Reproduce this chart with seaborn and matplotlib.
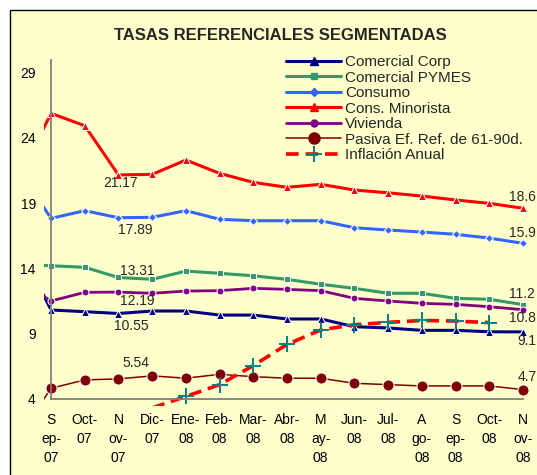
import numpy as np
import pandas as pd
import matplotlib
matplotlib.use("Agg")
import matplotlib.pyplot as plt
from matplotlib.patches import Rectangle
from matplotlib.lines import Line2D
import seaborn as sns

# ---------------- data ----------------
months = ["Ago-07", "Sep-07", "Oct-07", "Nov-07", "Dic-07", "Ene-08", "Feb-08", "Mar-08",
          "Abr-08", "May-08", "Jun-08", "Jul-08", "Ago-08", "Sep-08", "Oct-08", "Nov-08"]
tick_labels = ["S\nep-\n07", "Oct-\n07", "N\nov-\n07", "Dic-\n07", "Ene-\n08", "Feb-\n08",
               "Mar-\n08", "Abr-\n08", "M\nay-\n08", "Jun-\n08", "Jul-\n08", "A\ngo-\n08",
               "S\nep-\n08", "Oct-\n08", "N\nov-\n08"]

comercial_corp = [15.9, 10.82, 10.69, 10.55, 10.74, 10.74, 10.43, 10.43, 10.13, 10.13,
                  9.54, 9.44, 9.26, 9.26, 9.15, 9.14]
comercial_pymes = [14.3, 14.21, 14.09, 13.31, 13.17, 13.80, 13.63, 13.44, 13.17, 12.79,
                   12.48, 12.10, 12.10, 11.71, 11.64, 11.23]
consumo = [21.7, 17.84, 18.43, 17.89, 17.92, 18.43, 17.77, 17.66, 17.66, 17.66,
           17.12, 16.95, 16.79, 16.62, 16.33, 15.93]
cons_minorista = [20.7, 25.89, 24.94, 21.17, 21.21, 22.31, 21.29, 20.60, 20.22, 20.45,
                  20.01, 19.80, 19.55, 19.25, 18.99, 18.62]
vivienda = [13.1, 11.51, 12.17, 12.19, 12.10, 12.27, 12.30, 12.48, 12.40, 12.30,
            11.71, 11.51, 11.33, 11.25, 11.07, 10.84]
pasiva = [1.0, 4.82, 5.46, 5.54, 5.77, 5.59, 5.89, 5.71, 5.59, 5.59,
          5.20, 5.10, 5.00, 5.00, 5.00, 4.72]
inflacion = [2.44, 2.58, 2.36, 2.70, 3.32, 4.19, 5.10, 6.56, 8.18, 9.29,
             9.69, 9.87, 10.02, 9.97, 9.85, np.nan]

series_names = ["Comercial Corp", "Comercial PYMES", "Consumo", "Cons. Minorista",
                "Vivienda", "Pasiva Ef. Ref. de 61-90d.", "Inflación Anual"]

df = pd.DataFrame({
    "x": np.arange(-1, len(months) - 1),
    "mes": months,
    series_names[0]: comercial_corp,
    series_names[1]: comercial_pymes,
    series_names[2]: consumo,
    series_names[3]: cons_minorista,
    series_names[4]: vivienda,
    series_names[5]: pasiva,
    series_names[6]: inflacion,
})

# ---------------- styles ----------------
styles = {
    "Comercial Corp": dict(color="#000080", lw=2.2, marker="^", markersize=6),
    "Comercial PYMES": dict(color="#339966", lw=2.2, marker="s", markersize=5),
    "Consumo": dict(color="#3366FF", lw=2.2, marker="D", markersize=4.5),
    "Cons. Minorista": dict(color="#FF0000", lw=2.2, marker="^", markersize=6),
    "Vivienda": dict(color="#800080", lw=2.0, marker="o", markersize=5),
    "Pasiva Ef. Ref. de 61-90d.": dict(color="#800000", lw=1.1, marker="o", markersize=8),
    "Inflación Anual": dict(color="#FF0000", lw=2.6, linestyle=(0, (3.5, 1.9)),
                            marker="+", markersize=12, markeredgecolor="#008080",
                            markeredgewidth=1.4),
}

sns.set_theme(style="white")
plt.rcParams["font.family"] = ["Liberation Sans", "DejaVu Sans"]

W, H = 537, 475
fig = plt.figure(figsize=(W / 100, H / 100), dpi=100)
fig.patch.set_facecolor("white")
fig.patches.append(Rectangle((10 / W, -0.02), 1.05, 1 - 10 / H + 0.02,
                             transform=fig.transFigure, facecolor="#FFFFCC",
                             edgecolor="black", linewidth=1.0, zorder=-5))

ax_left, ax_top, ax_right, ax_bottom = 44.3, 59.7, 539.8, 405.5
ax = fig.add_axes([ax_left / W, 1 - ax_bottom / H, (ax_right - ax_left) / W,
                   (ax_bottom - ax_top) / H])
ax.set_zorder(2)
ax.set_facecolor("none")
ax.patch.set_visible(False)

for name in series_names:
    kw = dict(styles[name])
    if name == "Inflación Anual":
        vals = df[name].to_numpy()
        kw["markevery"] = [i for i, v in enumerate(vals[~np.isnan(vals)]) if v >= 4]
    sns.lineplot(data=df, x="x", y=name, ax=ax, legend=False, errorbar=None,
                 sort=False, **kw)

ax.set_xlim(-0.2, 14.5)
ax.set_ylim(3.5, 30)
ax.set_xlabel("")
ax.set_ylabel("")

for s in ["top", "right"]:
    ax.spines[s].set_visible(False)
ax.spines["left"].set_position(("data", 0))
ax.spines["left"].set_bounds(4, 30)
ax.spines["bottom"].set_position(("data", 4))
ax.spines["bottom"].set_bounds(0, 14)
for s in ["left", "bottom"]:
    ax.spines[s].set_color("#808080")
    ax.spines[s].set_linewidth(1.3)

ax.set_yticks([4, 9, 14, 19, 24, 29])
ax.set_yticklabels(["4", "9", "14", "19", "24", "29"])
ax.set_xticks(range(len(tick_labels)))
ax.set_xticklabels(tick_labels, linespacing=1.45)
ax.tick_params(axis="both", direction="out", length=4, width=1, color="#808080",
               labelsize=10, labelcolor="black")
ax.tick_params(axis="y", pad=7)
ax.tick_params(axis="x", pad=6)

# data labels
left_labels = [("Cons. Minorista", 2, -8), ("Consumo", 17, -12.5),
               ("Comercial PYMES", 19, 6), ("Vivienda", 19, -9),
               ("Comercial Corp", 13, -12), ("Pasiva Ef. Ref. de 61-90d.", 17, 16)]
for name, dx, dy in left_labels:
    v = df[name].iloc[3]
    ax.annotate(f"{v:g}", (df["x"].iloc[3], v), xytext=(dx, dy),
                textcoords="offset pixels", ha="center", va="center", fontsize=10)

right_labels = [("Cons. Minorista", -14, 11), ("Consumo", -14, 10),
                ("Comercial PYMES", -14, 11), ("Vivienda", -14, -8),
                ("Comercial Corp", -6, -9), ("Pasiva Ef. Ref. de 61-90d.", -5, 13)]
for name, dx, dy in right_labels:
    v = df[name].iloc[-1]
    ax.annotate(f"{v:.1f}", (df["x"].iloc[-1], v), xytext=(dx, dy),
                textcoords="offset pixels", ha="left", va="center", fontsize=10,
                annotation_clip=False)

# legend
handles = []
for name in series_names:
    kw = dict(styles[name])
    handles.append(Line2D([], [], **kw))
leg = fig.legend(handles, series_names, loc="upper left",
                 bbox_to_anchor=(286 / W, 1 - 55 / H), bbox_transform=fig.transFigure,
                 frameon=False, fontsize=11, handlelength=3.6, handletextpad=0.25,
                 labelspacing=0.1, borderpad=0, borderaxespad=0, numpoints=1)
leg.set_zorder(3)

fig.text(280 / W, 1 - 36 / H, "TASAS REFERENCIALES SEGMENTADAS", ha="center",
         va="center", fontsize=12, fontweight="bold")

fig.savefig("out.png", dpi=100)
